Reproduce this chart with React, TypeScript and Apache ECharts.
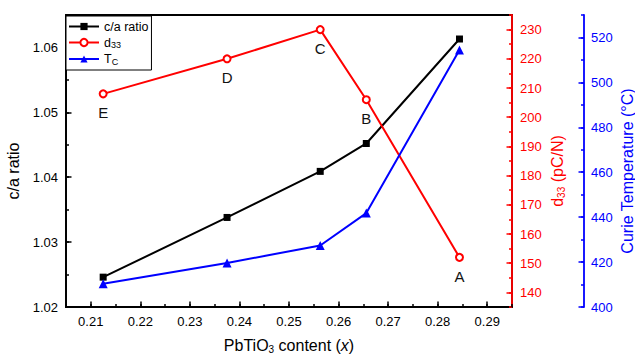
import React, { useEffect, useRef } from "react";
import * as echarts from "echarts";

const xValues = [0.2125, 0.2375, 0.2563, 0.2656, 0.2844];
const caRatio = [1.0246, 1.0338, 1.0409, 1.0452, 1.0613];
const d33 = [208, 220, 230, 206, 152];
const curieTemp = [410.4, 419.6, 427.4, 441.8, 514.4];
const pointLabels = ["E", "D", "C", "B", "A"];

const xMajorTicks = [0.21, 0.22, 0.23, 0.24, 0.25, 0.26, 0.27, 0.28, 0.29];
const caMajorTicks = [1.02, 1.03, 1.04, 1.05, 1.06];
const d33MajorTicks = [140, 150, 160, 170, 180, 190, 200, 210, 220, 230];
const tcMajorTicks = [400, 420, 440, 460, 480, 500, 520];

const FONT = "'Liberation Sans', Arial, Helvetica, sans-serif";
const BLACK = "#000000";
const RED = "#ff0000";
const BLUE = "#0000ff";

export default function App() {
  const ref = useRef<HTMLDivElement>(null);

  useEffect(() => {
    if (!ref.current) return;
    const chart = echarts.init(ref.current, null, { renderer: "svg" });

    const zip = (ys: number[]) => xValues.map((x, i) => [x, ys[i]]);

    const subRich = (color: string, size: number, lh: number) => ({
      n: { fontSize: size, color, fontFamily: FONT, lineHeight: lh },
      s: { fontSize: Math.round(size * 0.62), color, fontFamily: FONT, verticalAlign: "bottom", lineHeight: 8 },
      i: { fontSize: size, color, fontFamily: FONT, fontStyle: "italic", lineHeight: lh },
    });

    const longTickAxisBase = {
      axisLine: { show: false },
      axisLabel: { show: false },
      splitLine: { show: false },
    };

    const option: any = {
      animation: false,
      backgroundColor: "#ffffff",
      textStyle: { fontFamily: FONT },
      grid: {
        left: 66,
        right: 123,
        top: 15,
        bottom: 47,
        containLabel: false,
        outerBoundsMode: "none",
        show: true,
        borderColor: BLACK,
        borderWidth: 1.8,
        backgroundColor: "transparent",
      },
      legend: {
        orient: "vertical",
        left: 66,
        top: 16,
        itemWidth: 30,
        itemHeight: 9,
        itemGap: 3,
        padding: [4, 3, 4, 2],
        borderColor: BLACK,
        borderWidth: 1,
        backgroundColor: "#ffffff",
        data: ["c/a ratio", "d33", "Tc"],
        formatter: (name: string) => {
          if (name === "d33") return "{n|d}{s|33}";
          if (name === "Tc") return "{n|T}{s|C}";
          return "{n|" + name + "}";
        },
        textStyle: {
          fontSize: 12.5,
          color: BLACK,
          fontFamily: FONT,
          rich: {
            n: { fontSize: 12.5, color: BLACK, fontFamily: FONT, lineHeight: 14 },
            s: { fontSize: 9, color: BLACK, fontFamily: FONT, verticalAlign: "bottom", lineHeight: 8 },
          },
        },
      },
      xAxis: [
        {
          type: "value",
          min: 0.205,
          max: 0.295,
          interval: 0.005,
          position: "bottom",
          name: "{n|PbTiO}{s|3}{n| content (}{i|x}{n|)}",
          nameLocation: "middle",
          nameGap: 30,
          nameMoveOverlap: false,
          nameTextStyle: { rich: subRich(BLACK, 16, 17) },
          axisLine: { show: true, lineStyle: { color: BLACK, width: 1.8 } },
          axisTick: { show: true, inside: true, length: 3, lineStyle: { color: BLACK, width: 1.5 } },
          axisLabel: {
            color: BLACK,
            fontSize: 13,
            fontFamily: FONT,
            margin: 8,
            formatter: (v: number) => {
              const k = Math.round(v * 200);
              return k % 2 === 0 ? (k / 200).toFixed(2) : "";
            },
          },
          splitLine: { show: false },
        },
        {
          type: "value",
          min: 0.205,
          max: 0.295,
          interval: 0.005,
          position: "bottom",
          ...longTickAxisBase,
          axisTick: { show: true, inside: true, length: 5.5, customValues: xMajorTicks, lineStyle: { color: BLACK, width: 1.5 } },
        },
      ],
      yAxis: [
        {
          type: "value",
          min: 1.02,
          max: 1.065,
          interval: 0.005,
          position: "left",
          name: "c/a ratio",
          nameLocation: "middle",
          nameGap: 40,
          nameRotate: 90,
          nameTextStyle: { fontSize: 16, color: BLACK, fontFamily: FONT, padding: [0, 20, 0, 0] },
          axisLine: { show: true, lineStyle: { color: BLACK, width: 1.8 } },
          axisTick: { show: true, inside: true, length: 3, lineStyle: { color: BLACK, width: 1.5 } },
          axisLabel: {
            color: BLACK,
            fontSize: 13,
            fontFamily: FONT,
            margin: 8,
            formatter: (v: number) => {
              const k = Math.round(v * 200);
              return k % 2 === 0 ? (k / 200).toFixed(2) : "";
            },
          },
          splitLine: { show: false },
        },
        {
          type: "value",
          min: 135,
          max: 235,
          interval: 5,
          position: "right",
          offset: 0,
          name: "{n|d}{s|33}{n| (pC/N)}",
          nameLocation: "middle",
          nameGap: 36,
          nameMoveOverlap: false,
          nameRotate: 90,
          nameTextStyle: { rich: subRich(RED, 16, 18), padding: [0, 20, 0, 0] },
          axisLine: { show: true, lineStyle: { color: RED, width: 1.8 } },
          axisTick: { show: true, inside: true, length: 3, lineStyle: { color: RED, width: 1.5 } },
          axisLabel: {
            color: RED,
            fontSize: 13,
            fontFamily: FONT,
            margin: 8,
            formatter: (v: number) => {
              const k = Math.round(v / 5);
              return k % 2 === 0 ? String(k * 5) : "";
            },
          },
          splitLine: { show: false },
        },
        {
          type: "value",
          min: 400,
          max: 530,
          interval: 10,
          position: "right",
          offset: 72,
          name: "Curie Temperature (°C)",
          nameLocation: "middle",
          nameGap: 35,
          nameMoveOverlap: false,
          nameRotate: 90,
          nameTextStyle: { fontSize: 16, color: BLUE, fontFamily: FONT, padding: [0, 20, 0, 0] },
          axisLine: { show: true, lineStyle: { color: BLUE, width: 1.8 } },
          axisTick: { show: true, inside: true, length: 3, lineStyle: { color: BLUE, width: 1.5 } },
          axisLabel: {
            color: BLUE,
            fontSize: 13,
            fontFamily: FONT,
            margin: 7,
            formatter: (v: number) => {
              const k = Math.round(v / 10);
              return k % 2 === 0 ? String(k * 10) : "";
            },
          },
          splitLine: { show: false },
        },
        {
          type: "value",
          min: 1.02,
          max: 1.065,
          interval: 0.005,
          position: "left",
          ...longTickAxisBase,
          axisTick: { show: true, inside: true, length: 5.5, customValues: caMajorTicks, lineStyle: { color: BLACK, width: 1.5 } },
        },
        {
          type: "value",
          min: 135,
          max: 235,
          interval: 5,
          position: "right",
          offset: 0,
          ...longTickAxisBase,
          axisTick: { show: true, inside: true, length: 5.5, customValues: d33MajorTicks, lineStyle: { color: RED, width: 1.5 } },
        },
        {
          type: "value",
          min: 400,
          max: 530,
          interval: 10,
          position: "right",
          offset: 72,
          ...longTickAxisBase,
          axisTick: { show: true, inside: true, length: 5.5, customValues: tcMajorTicks, lineStyle: { color: BLUE, width: 1.5 } },
        },
      ],
      series: [
        {
          name: "c/a ratio",
          type: "line",
          xAxisIndex: 0,
          yAxisIndex: 0,
          data: zip(caRatio),
          symbol: "rect",
          symbolSize: 7,
          lineStyle: { color: BLACK, width: 2 },
          itemStyle: { color: BLACK },
          z: 3,
        },
        {
          name: "d33",
          type: "line",
          xAxisIndex: 0,
          yAxisIndex: 1,
          data: zip(d33),
          symbol: "emptyCircle",
          symbolSize: 7,
          showAllSymbol: true,
          lineStyle: { color: RED, width: 2 },
          itemStyle: { color: RED, borderColor: RED, borderWidth: 1.5 },
          label: {
            show: true,
            position: "bottom",
            distance: 7,
            fontSize: 15,
            color: "#111111",
            fontFamily: FONT,
            formatter: (p: any) => pointLabels[p.dataIndex],
          },
          z: 3,
        },
        {
          name: "Tc",
          type: "line",
          xAxisIndex: 0,
          yAxisIndex: 2,
          data: zip(curieTemp),
          symbol: "triangle",
          symbolSize: 9,
          lineStyle: { color: BLUE, width: 2 },
          itemStyle: { color: BLUE },
          z: 3,
        },
      ],
    };

    chart.setOption(option);
    return () => chart.dispose();
  }, []);

  return (
    <div
      ref={ref}
      style={{ position: "fixed", left: 0, top: 0, width: 635, height: 354, background: "#fff" }}
    />
  );
}
